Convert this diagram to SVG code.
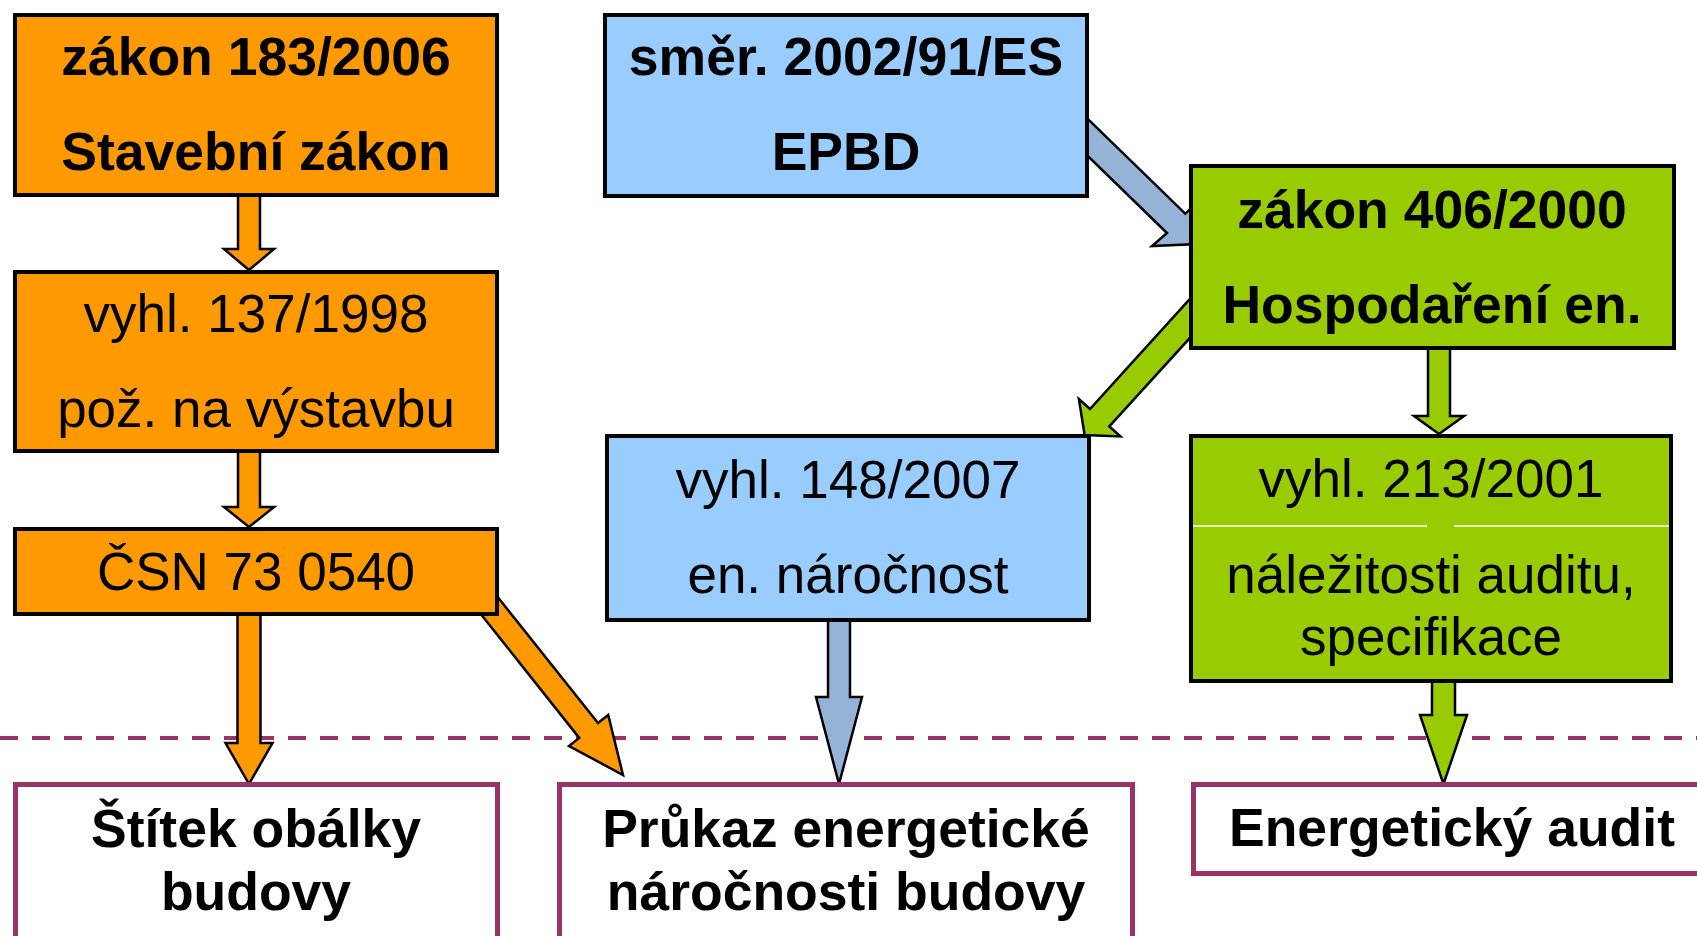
<svg xmlns="http://www.w3.org/2000/svg" width="1697" height="936" viewBox="0 0 1697 936">
<style>
.box{stroke:#000;stroke-width:4}
.or{fill:#FF9900}
.bl{fill:#99CCFF}
.gr{fill:#99CC00}
.out{fill:#FFFFFF;stroke:#993366;stroke-width:5}
.arr{stroke:#000;stroke-width:2.5;stroke-linejoin:miter}
.ao{fill:#FF9900}
.ab{fill:#95B3D7}
.ag{fill:#99CC00}
text{font-family:"Liberation Sans",Arial,sans-serif;font-size:53px;text-anchor:middle;fill:#000}
.b{font-weight:bold;font-size:53.5px}
</style>
<rect width="1697" height="936" fill="#FFFFFF"/>
<g id="divider">
<line x1="0" y1="738" x2="1697" y2="738" stroke="#993366" stroke-width="4" stroke-dasharray="18 14"/>
</g>
<g id="connectors">
<polygon class="arr ao" points="238,190 260,190 260,249 274,249 249,270 224,249 238,249"/>
<polygon class="arr ao" points="238,448 260,448 260,507 274,507 249,527 224,507 238,507"/>
<polygon class="arr ao" points="237.5,610 260.5,610 260.5,743 272.5,743 249,784 225.5,743 237.5,743"/>
<polygon class="arr ao" points="490.7,588.2 598,723 608.2,715 623,775 569,746 579.2,737.9 473.7,605.2"/>
<polygon class="arr ab" points="1074.6,106.2 1185.4,213.8 1199.2,199.4 1197.6,244.1 1152,246 1167,233 1074.6,143.2"/>
<polygon class="arr ag" points="1199,288.9 1090,409 1078.9,399 1084.6,435 1120.4,436.4 1109.3,426.4 1199,327.9"/>
<polygon class="arr ag" points="1428,345 1450,345 1450,416 1464,416 1439,434 1414,416 1428,416"/>
<polygon class="arr ab" points="828,617 850,617 850,697 862,697 839,784 816,697 828,697"/>
<polygon class="arr ag" points="1432,678 1455,678 1455,715 1467,715 1443.5,784 1420,715 1432,715"/>
</g>
<g id="n-zakon183">
<rect class="box or" x="15" y="15" width="482" height="180"/>
<text class="b" x="256" y="75">zákon 183/2006</text>
<text class="b" x="256" y="170">Stavební zákon</text>
</g>
<g id="n-vyhl137">
<rect class="box or" x="15" y="272" width="482" height="179"/>
<text x="256" y="332">vyhl. 137/1998</text>
<text x="256" y="427">pož. na výstavbu</text>
</g>
<g id="n-csn">
<rect class="box or" x="15" y="529" width="482" height="85"/>
<text x="256" y="590">ČSN 73 0540</text>
</g>
<g id="n-smer">
<rect class="box bl" x="605" y="15" width="482" height="181"/>
<text class="b" x="846" y="75">směr. 2002/91/ES</text>
<text class="b" x="846" y="170">EPBD</text>
</g>
<g id="n-zakon406">
<rect class="box gr" x="1191" y="166" width="483" height="182"/>
<text class="b" x="1432" y="228">zákon 406/2000</text>
<text class="b" x="1432" y="323">Hospodaření en.</text>
</g>
<g id="n-vyhl148">
<rect class="box bl" x="607" y="436" width="482" height="184"/>
<text x="848" y="498">vyhl. 148/2007</text>
<text x="848" y="593">en. náročnost</text>
</g>
<g id="n-vyhl213">
<rect class="box gr" x="1191" y="436" width="480" height="245"/>
<line x1="1193" y1="526" x2="1427" y2="526" stroke="#FFFFFF" stroke-width="1.5"/>
<line x1="1454" y1="526" x2="1669" y2="526" stroke="#FFFFFF" stroke-width="1.5"/>
<text x="1431" y="497">vyhl. 213/2001</text>
<text x="1431" y="593">náležitosti auditu,</text>
<text x="1431" y="655">specifikace</text>
</g>
<g id="n-stitek">
<rect class="out" x="15.5" y="784.5" width="482" height="200"/>
<text class="b" x="256" y="847">Štítek obálky</text>
<text class="b" x="256" y="910">budovy</text>
</g>
<g id="n-prukaz">
<rect class="out" x="559.5" y="784.5" width="573" height="200"/>
<text class="b" x="846" y="847">Průkaz energetické</text>
<text class="b" x="846" y="910">náročnosti budovy</text>
</g>
<g id="n-audit">
<rect class="out" x="1193.5" y="784.5" width="560" height="89"/>
<text class="b" x="1452" y="846">Energetický audit</text>
</g>
</svg>
